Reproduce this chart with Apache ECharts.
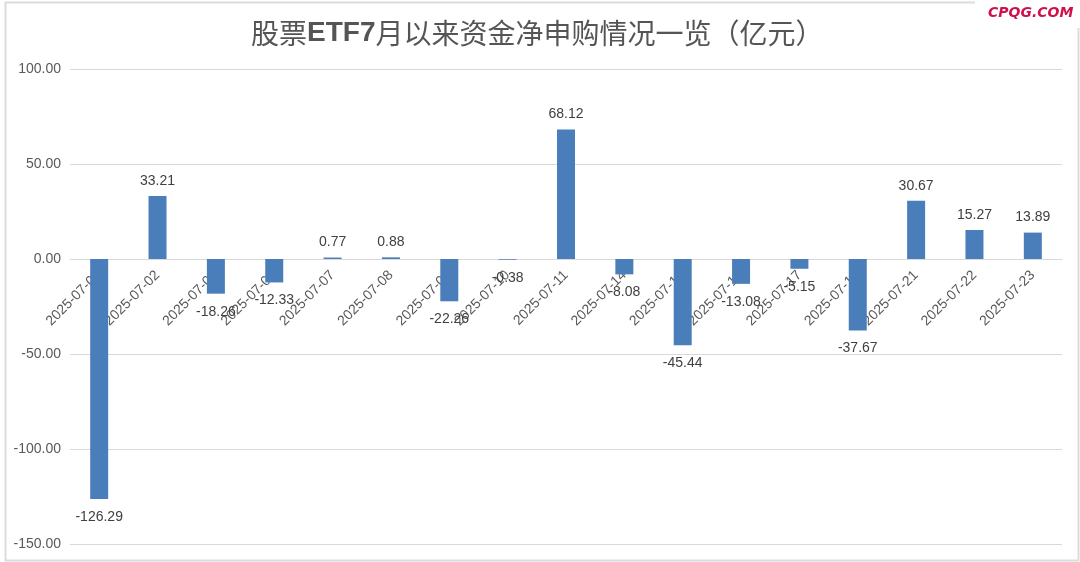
<!DOCTYPE html>
<html>
<head>
<meta charset="utf-8">
<script src="https://cdn.jsdelivr.net/npm/echarts@6/dist/echarts.min.js"></script>
<style>html,body{margin:0;padding:0;background:#fff}#c{width:1080px;height:562px}</style>
</head>
<body>
<div id="c"></div>
<script>
const categories = ['2025-07-01','2025-07-02','2025-07-03','2025-07-04','2025-07-07','2025-07-08','2025-07-09','2025-07-10','2025-07-11','2025-07-14','2025-07-15','2025-07-16','2025-07-17','2025-07-18','2025-07-21','2025-07-22','2025-07-23'];
const netSubscription = [-126.29, 33.21, -18.26, -12.33, 0.77, 0.88, -22.26, -0.38, 68.12, -8.08, -45.44, -13.08, -5.15, -37.67, 30.67, 15.27, 13.89];
const yTicks = { min: -150, max: 100, interval: 50 };

const FONT = '"Liberation Sans", Arial, "Noto Sans CJK SC", sans-serif';
const chart = echarts.init(document.getElementById('c'));
chart.setOption({
  backgroundColor: '#fff',
  animation: false,
  title: {
    text: '{a|股票}{b|ETF7}{a|月以来资金净申购情况一览（亿元）}',
    left: 246, top: 14,
    textStyle: {
      rich: {
        a: { fontSize: 28, color: '#555555', fontWeight: 'normal', fontFamily: '"Noto Sans CJK SC", sans-serif' },
        b: { fontSize: 28, color: '#555555', fontWeight: 'bold', fontFamily: FONT }
      }
    }
  },
  graphic: [
    { type: 'rect', left: 3, top: 0, shape: { width: 1073, height: 558 }, style: { fill: 'none', stroke: '#dcdcdc', lineWidth: 2 }, silent: true, z: -1 },
    { type: 'rect', left: 975, top: 0, shape: { width: 105, height: 28 }, style: { fill: '#fff' }, silent: true, z: 0 },
    { type: 'text', left: 988, top: 6, style: { text: 'CPQG.COM', fill: '#d0104c', font: 'italic bold 14px "DejaVu Sans", sans-serif' }, z: 1 }
  ],
  grid: { left: 70, right: 18, top: 69, bottom: 18, containLabel: false, outerBoundsMode: 'none' },
  xAxis: {
    type: 'category',
    data: categories,
    position: 'bottom',
    offset: -285,
    z: 0,
    axisLine: { show: true, onZero: false, lineStyle: { color: '#d9d9d9' } },
    axisTick: { show: false },
    axisLabel: { rotate: 45, color: '#595959', fontSize: 14, fontFamily: FONT, margin: 14, interval: 0 }
  },
  yAxis: {
    type: 'value',
    min: yTicks.min, max: yTicks.max, interval: yTicks.interval,
    axisLine: { show: false },
    axisTick: { show: false },
    splitLine: { lineStyle: { color: '#d9d9d9' } },
    axisLabel: { color: '#595959', fontSize: 14, fontFamily: FONT, margin: 9, formatter: v => v.toFixed(2) }
  },
  series: [{
    type: 'bar',
    barWidth: 18,
    z: 3,
    itemStyle: { color: '#4a7ebb' },
    data: netSubscription.map(v => ({ value: v, label: { position: v < 0 ? 'bottom' : 'top', distance: v < 0 ? 11 : 8 } })),
    label: { show: true, color: '#404040', fontSize: 14, fontFamily: FONT, formatter: p => p.value.toFixed(2) }
  }]
});
</script>
</body>
</html>
